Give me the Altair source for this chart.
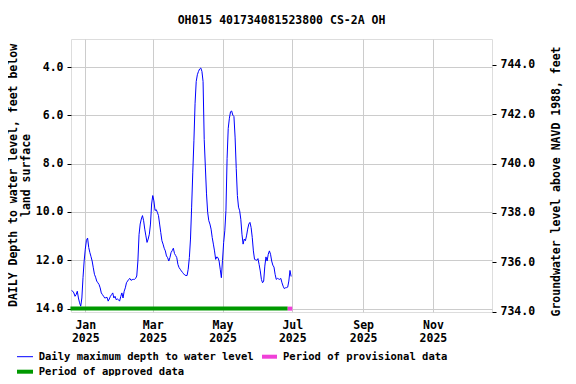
import altair as alt
import pandas as pd
from datetime import date, timedelta

# ---- data ----
title_text = "OH015 401734081523800 CS-2A OH"
left_title = ["DAILY Depth to water level, feet below", "land surface"]
right_title = "Groundwater level above NAVD 1988, feet"

# day offsets from 2025-01-01 and daily maximum depth (feet below land surface)
days = [-12, -11, -10, -9, -8, -7, -6, -5, -4, -3, -2, -1, 0, 1, 2, 3, 4, 5, 6, 7, 8, 9,
        10, 11, 12, 13, 14, 15, 16, 17, 18, 19, 20, 21, 22, 23, 24, 25, 26, 27, 28, 29,
        30, 31, 32, 33, 34, 35, 36, 37, 38, 39, 40, 41, 42, 43, 44, 45, 46, 47, 48, 49,
        50, 51, 52, 53, 54, 55, 56, 57, 58, 59, 60, 61, 62, 63, 64, 65, 66, 67, 68, 69,
        70, 71, 72, 73, 74, 75, 76, 77, 78, 79, 80, 81, 82, 83, 84, 85, 86, 87, 88, 89,
        90, 91, 92, 93, 94, 95, 96, 97, 98, 99, 100, 101, 102, 103, 104, 105, 106, 107,
        108, 109, 110, 111, 112, 113, 114, 115, 116, 117, 118, 119, 120, 121, 122, 123,
        124, 125, 126, 127, 128, 129, 130, 131, 132, 133, 134, 135, 136, 137, 138, 139,
        140, 141, 142, 143, 144, 145, 146, 147, 148, 149, 150, 151, 152, 153, 154, 155,
        156, 157, 158, 159, 160, 161, 162, 163, 164, 165, 166, 167, 168, 169, 170, 171,
        172, 173, 174, 175, 176, 177, 178, 179, 180]
depth = [13.25, 13.28, 13.35, 13.49, 13.42, 13.28, 13.56, 13.76, 13.90, 13.56, 12.72, 12.03,
         11.54, 11.17, 11.08, 11.47, 11.68, 11.85, 12.03, 12.31, 12.58, 12.70,
         12.86, 12.93, 13.00, 13.14, 13.35, 13.42, 13.49, 13.56, 13.55, 13.53, 13.69, 13.60,
         13.49, 13.42, 13.35, 13.56, 13.49, 13.63, 13.60, 13.63,
         13.69, 13.50, 13.35, 13.56, 13.28, 13.14, 12.93, 12.86, 12.79, 12.75, 12.83, 12.80,
         12.79, 12.79, 12.75, 12.65, 12.03, 10.94, 10.50, 10.29,
         10.15, 10.36, 10.71, 10.99, 11.26, 11.12, 10.92, 10.50, 9.67, 9.32, 9.54, 9.94,
         9.90, 10.01, 10.15, 10.50, 10.85, 11.19, 11.33, 11.50,
         11.61, 11.82, 11.89, 12.03, 11.89, 11.68, 11.60, 11.50, 11.72, 11.80, 11.89, 12.17,
         12.30, 12.37, 12.44, 12.50, 12.56, 12.61, 12.63, 12.63,
         12.37, 11.89, 11.12, 9.80, 8.35, 7.03, 5.50, 4.60, 4.32, 4.18, 4.08, 4.04, 4.18,
         4.60, 7.00, 8.14, 9.25, 10.01,
         10.36, 10.50, 10.71, 11.06, 11.33, 11.61, 11.96, 11.86, 11.89, 12.03, 12.37, 12.72,
         12.00, 11.26, 10.78, 9.94,
         7.79, 6.54, 6.12, 5.85, 5.82, 5.99, 6.05, 6.90, 8.20, 9.32, 9.80, 9.95, 10.30,
         10.92, 11.33, 11.12,
         11.19, 10.99, 10.71, 10.50, 10.43, 10.64, 11.05, 11.61, 11.96, 11.98, 12.00, 11.93,
         12.17, 12.44, 12.79, 12.93,
         12.86, 12.24, 11.86, 12.03, 11.75, 11.61, 11.75, 12.03, 12.20, 12.28, 12.58, 12.79,
         12.75, 12.77, 12.79, 12.75,
         12.93, 13.07, 13.17, 13.14, 13.13, 13.11, 12.86, 12.42, 12.67]

period_labels = ["Period of approved data", "Period of provisional data"]
period_start = ["2024-12-19", "2025-06-27"]
period_end = ["2025-06-27", "2025-07-01"]
period_depth = [14.0, 14.0]
period_colors = ["#009900", "#f040d8"]

legend_labels = ["Daily maximum depth to water level", "Period of provisional data",
                 "Period of approved data"]

left_ticks = [4, 6, 8, 10, 12, 14]
right_ticks = [734, 736, 738, 740, 742, 744]

# ---- build tables ----
base = date(2025, 1, 1)
df = pd.DataFrame({
    "date": [(base + timedelta(days=d)).isoformat() for d in days],
    "depth": depth,
})
periods = pd.DataFrame({"label": period_labels, "date": period_start,
                        "end": period_end, "depth": period_depth})

FONT = "DejaVu Sans Mono"
W, H = 421, 273
x_domain = [alt.DateTime(year=2024, month=12, date=19, hours=12, utc=True),
            alt.DateTime(year=2025, month=12, date=22, hours=16, utc=True)]
x_ticks = [alt.DateTime(year=2025, month=m, date=1, utc=True) for m in [1, 3, 5, 7, 9, 11]]
y_domain = [2.84, 14.14]
right_domain = [733.99, 745.04]

x_enc = alt.X("date:T", scale=alt.Scale(type="utc", domain=x_domain),
              axis=alt.Axis(values=x_ticks, title=None, grid=True, gridColor="#cccccc",
                            tickSize=0, labelPadding=7, labelBaseline="top",
                            labelLineHeight=13, labelFont=FONT, labelFontWeight="bold",
                            labelFontSize=11.5, labelColor="black", domain=False,
                            labelExpr="[utcFormat(datum.value, '%b'), utcFormat(datum.value, '%Y')]"))

y_depth = alt.Y("depth:Q",
                scale=alt.Scale(domain=y_domain, reverse=True, nice=False, zero=False),
                axis=alt.Axis(values=left_ticks, format=".1f", title=None, grid=True,
                              gridColor="#cccccc", tickSize=4, labelPadding=4, domain=False,
                              labelFont=FONT, labelFontWeight="bold", labelFontSize=11.5,
                              labelColor="black", tickColor="black"))

line = alt.Chart(df).mark_line(color="#0000ff", strokeWidth=1, interpolate="linear").encode(
    x=x_enc,
    y=y_depth,
)

bars = alt.Chart(periods).mark_rule(strokeWidth=4, strokeCap="butt").encode(
    x=x_enc,
    x2="end:T",
    y=y_depth,
    color=alt.Color("label:N", scale=alt.Scale(domain=period_labels, range=period_colors),
                    legend=None),
)

depth_layer = alt.layer(line, bars)

right = alt.Chart(df).transform_calculate(elev="748 - datum.depth").mark_line(opacity=0).encode(
    x=x_enc,
    y=alt.Y("elev:Q", scale=alt.Scale(domain=right_domain, nice=False, zero=False),
            axis=alt.Axis(orient="right", values=right_ticks, format=".1f", title=None,
                          grid=False, tickSize=4, labelPadding=4, domain=False,
                          labelFont=FONT, labelFontWeight="bold", labelFontSize=11.5,
                          labelColor="black", tickColor="black")),
)

one = pd.DataFrame({"k": [0]})

def txt(s, x, y, size=11.5, angle=0, align="center"):
    return alt.Chart(one).mark_text(text=s, font=FONT, fontWeight="bold", fontSize=size,
                                    angle=angle, align=align, baseline="middle",
                                    color="black").encode(x=alt.value(x), y=alt.value(y))

def swatch(x0, x1, y, color, width):
    return alt.Chart(one).mark_rule(color=color, strokeWidth=width, strokeCap="butt").encode(
        x=alt.value(x0), x2=alt.value(x1), y=alt.value(y))

annotations = [
    txt(title_text, W / 2, -18.5),
    txt(left_title[0], -57, H / 2, angle=270),
    txt(left_title[1], -44, H / 2, angle=270),
    txt(right_title, 486, H / 2 + 6, angle=270),
    swatch(-54, -38, 317.7, "#0000ff", 1),
    txt(legend_labels[0], -32.3, 317.5, size=10.5, align="left"),
    swatch(191, 206, 317.7, period_colors[1], 4),
    txt(legend_labels[1], 212, 317.5, size=10.5, align="left"),
    swatch(-54, -38, 332.7, period_colors[0], 4),
    txt(legend_labels[2], -32.3, 332.5, size=10.5, align="left"),
]

chart = alt.layer(depth_layer, right, *annotations).resolve_scale(y="independent").properties(
    width=W, height=H,
    autosize=alt.AutoSizeParams(type="none"),
    padding={"left": 63, "top": 31, "right": 76, "bottom": 64},
).configure_view(stroke="black", strokeWidth=1).configure(background="white")

chart.save("out.html", embed_options={"renderer": "svg", "actions": False})
